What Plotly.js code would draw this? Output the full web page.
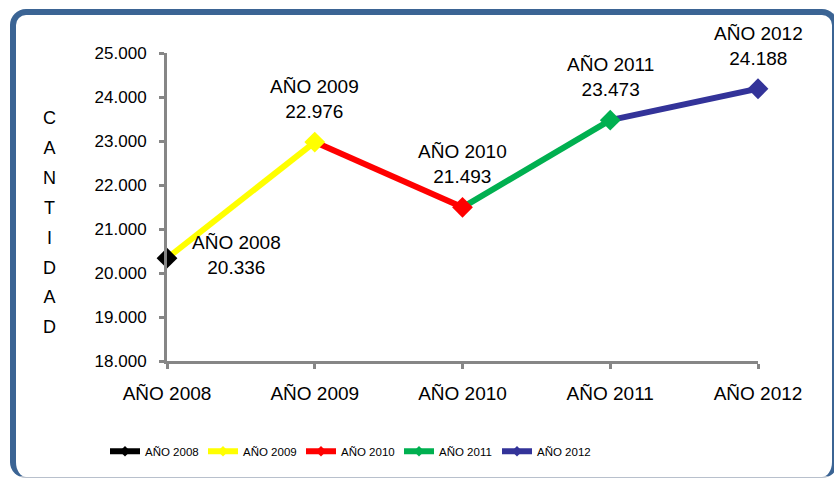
<!DOCTYPE html>
<html>
<head>
<meta charset="utf-8">
<script src="https://cdn.plot.ly/plotly-3.0.1.min.js"></script>
<style>
  html, body { margin:0; padding:0; background:#ffffff; width:834px; height:478px; overflow:hidden; }
  #frame { position:absolute; left:10px; top:9px; width:828px; height:469px; box-sizing:border-box;
           border-top:6px solid #3B6494; border-left:6px solid #3B6494; border-right:6px solid #3B6494;
           border-bottom:1px solid #B8C0CC; border-radius:16px; background:#ffffff; }
  #chart { position:absolute; left:0; top:0; width:834px; height:478px; }
</style>
</head>
<body>
<div id="frame"></div>
<div id="chart"></div>
<script>
// ---- data ----
const categories = ["AÑO 2008", "AÑO 2009", "AÑO 2010", "AÑO 2011", "AÑO 2012"];
const seriesNames = ["AÑO 2008", "AÑO 2009", "AÑO 2010", "AÑO 2011", "AÑO 2012"];
const values = [20336, 22976, 21493, 23473, 24188];
const seriesColors = ["#000000", "#FFFF00", "#FF0000", "#00B050", "#333399"];
const yAxisLetters = "CANTIDAD";

function fmt(v) { return String(v).replace(/\B(?=(\d{3})+(?!\d))/g, "."); }

const FONT = "Liberation Sans, Arial, sans-serif";
const traces = [];
for (let i = values.length - 1; i >= 0; i--) {
  let x, y, sz;
  if (i === 0) { x = [categories[0], categories[1]]; y = [values[0], null]; sz = [16, 0]; }
  else { x = [categories[i-1], categories[i]]; y = [values[i-1], values[i]]; sz = [0, 16]; }
  traces.push({
    type: "scatter", mode: "lines+markers", name: seriesNames[i],
    x: x, y: y, cliponaxis: false, hoverinfo: "skip",
    line: { color: seriesColors[i], width: 6 },
    marker: { symbol: "diamond", size: sz, color: seriesColors[i], opacity: 1, line: { width: 0 } }
  });
}

const annotations = [];
for (let i = 0; i < values.length; i++) {
  const a = {
    x: categories[i], y: values[i], xref: "x", yref: "y", showarrow: false,
    text: seriesNames[i] + "<br>" + fmt(values[i]),
    font: { family: FONT, size: 19, color: "#000000" },
    xanchor: "center", yanchor: "bottom", yshift: 18
  };
  if (i === 0) { a.yanchor = "middle"; a.xshift = 69; a.yshift = 3; }
  annotations.push(a);
}
annotations.push({
  xref: "paper", yref: "paper", x: (49 - 167) / 591, y: (360 - 222) / 307,
  xanchor: "center", yanchor: "middle", showarrow: false,
  text: yAxisLetters.split("").map(c => '<span style="font-size:18px">' + c + '</span>').join("<br>"),
  font: { family: FONT, size: 23, color: "#000000" }
});

const layout = {
  width: 834, height: 478,
  margin: { l: 167, r: 76, t: 53, b: 117 },
  paper_bgcolor: "rgba(0,0,0,0)", plot_bgcolor: "rgba(0,0,0,0)",
  separators: ",.",
  showlegend: true,
  font: { family: FONT, color: "#000000" },
  xaxis: {
    type: "category", categoryorder: "array", categoryarray: categories,
    range: [0, 4], showgrid: false, zeroline: false,
    showline: true, linecolor: "#868686", linewidth: 3,
    ticks: "outside", ticklen: 5, tickwidth: 3, tickcolor: "#868686",
    tickfont: { family: FONT, size: 19, color: "#000000" }, ticklabelstandoff: 8,
    fixedrange: true
  },
  yaxis: {
    range: [18000, 25000], dtick: 1000, tickformat: ",d", showgrid: false, zeroline: false,
    showline: true, linecolor: "#868686", linewidth: 3,
    ticks: "outside", ticklen: 5, tickwidth: 3, tickcolor: "#868686",
    tickfont: { family: FONT, size: 17, color: "#000000" }, ticklabelstandoff: 9,
    fixedrange: true
  },
  legend: {
    orientation: "h", traceorder: "reversed",
    x: (105 - 167) / 591, xanchor: "left", y: (360 - 450) / 307, yanchor: "middle",
    font: { family: "Liberation Sans Narrow, Arial Narrow, Liberation Sans, Arial, sans-serif", size: 11.5, color: "#000000" },
    bgcolor: "rgba(0,0,0,0)", entrywidth: 53, itemwidth: 30
  },
  annotations: annotations
};

Plotly.newPlot("chart", traces, layout, { displayModeBar: false, staticPlot: true });
</script>
</body>
</html>
